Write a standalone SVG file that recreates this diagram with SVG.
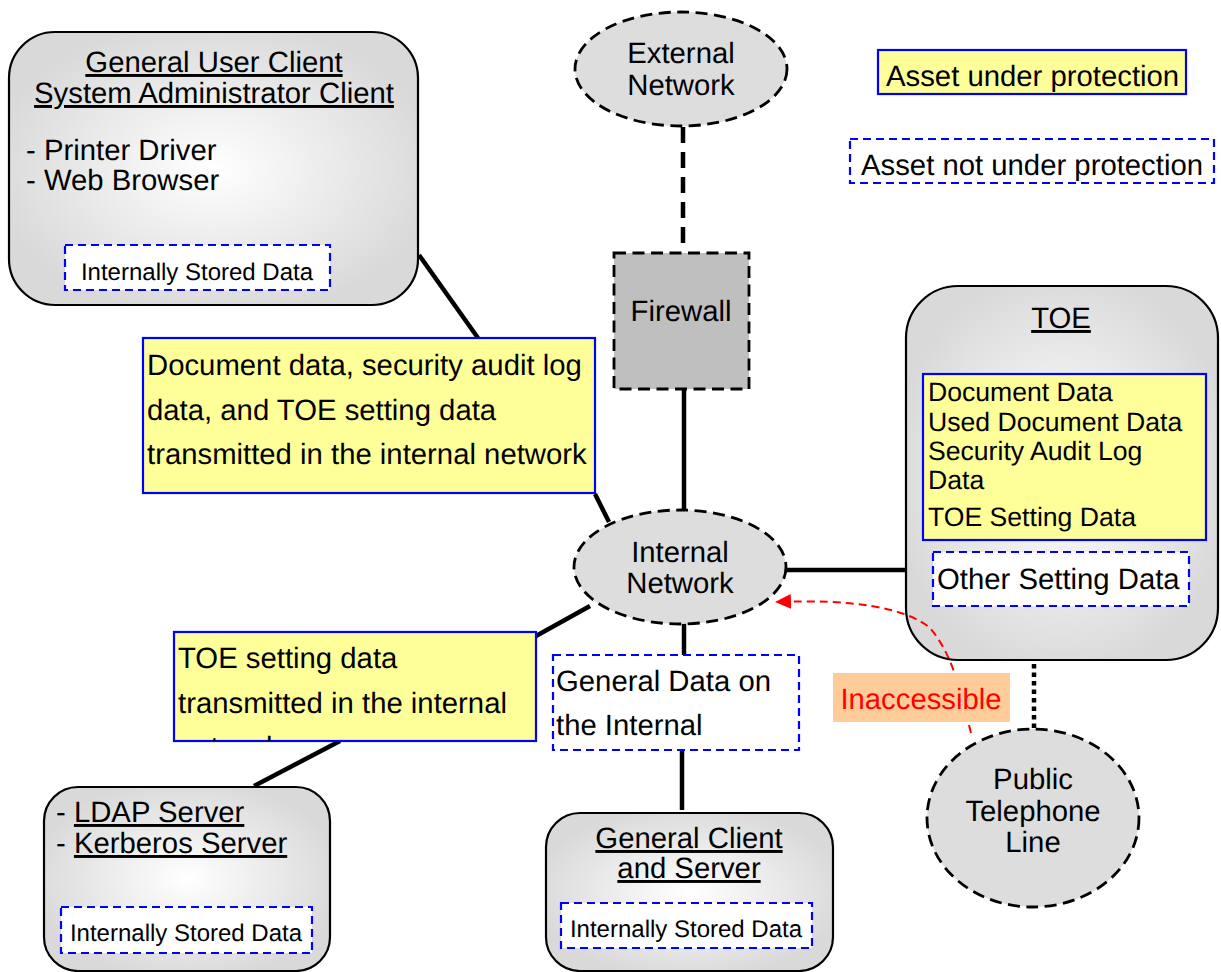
<svg xmlns="http://www.w3.org/2000/svg" width="1221" height="972" viewBox="0 0 1221 972">
<style>
text{font-family:"Liberation Sans",Arial,sans-serif;font-size:29.3px;fill:#000;text-rendering:geometricPrecision}
.s{font-size:24px}
.t{font-size:26.6px}
.m{text-anchor:middle}
.u{text-decoration:underline}
.node{fill:url(#rg);stroke:#000;stroke-width:2.2}
.cloud{fill:#dddddd;stroke:#000;stroke-width:2.8;stroke-dasharray:12 6.5}
.prot{fill:#ffff99;stroke:#0000ff;stroke-width:2.2}
.unprot{fill:#fff;stroke:#0000ff;stroke-width:2.2;stroke-dasharray:8 5}
.c{stroke:#000;stroke-width:4.5;fill:none}
</style>
<defs>
<radialGradient id="rg" cx="50%" cy="50%" r="55%"><stop offset="0" stop-color="#fff"/><stop offset="1" stop-color="#d9d9d9"/></radialGradient>
<marker id="ah" markerUnits="userSpaceOnUse" markerWidth="16" markerHeight="16" refX="15" refY="7.5" orient="auto"><path d="M0 0L16 7.5L0 15Z" fill="#f00"/></marker>
<clipPath id="clipTOE"><rect x="174" y="632" width="362" height="109"/></clipPath>
</defs>
<g id="connectors">
<path class="c" d="M683 127V252" stroke-dasharray="16 9"/>
<path class="c" d="M684 390V510"/>
<path class="c" d="M419 255L478 338"/>
<path class="c" d="M595 494L609 522"/>
<path class="c" d="M590 606L536 636"/>
<path class="c" d="M340 741L254 786"/>
<path class="c" d="M684 623V655"/>
<path class="c" d="M682 750V810"/>
<path class="c" d="M786 570H906"/>
<path class="c" d="M1034 664V728" stroke-dasharray="4.5 4"/>
</g>
<g id="n-client"><rect class="node" x="9" y="32" width="409" height="273" rx="46"/>
<text class="m u" x="214" y="72">General User Client</text>
<text class="m u" x="214" y="103">System Administrator Client</text>
<text x="26" y="160">- Printer Driver</text>
<text x="26" y="190">- Web Browser</text>
<rect class="unprot" x="65" y="245" width="265" height="45"/>
<text class="s m" x="197" y="280">Internally Stored Data</text></g>
<g id="n-external"><ellipse class="cloud" cx="681" cy="69" rx="106" ry="57"/>
<text class="m" x="681" y="63">External</text><text class="m" x="681" y="95">Network</text></g>
<g id="legend-prot"><rect class="prot" x="878" y="50" width="308" height="44"/><text x="886" y="86">Asset under protection</text></g>
<g id="legend-unprot"><rect class="unprot" x="850" y="139" width="364" height="44"/><text x="861" y="175">Asset not under protection</text></g>
<g id="n-firewall"><rect x="614" y="253" width="135" height="136" fill="#bfbfbf" stroke="#000" stroke-width="2.8" stroke-dasharray="12 6.5"/>
<text class="m" x="681" y="321">Firewall</text></g>
<g id="n-toe"><rect class="node" x="906" y="286" width="312" height="374" rx="52"/>
<text class="m u" x="1061" y="328">TOE</text>
<rect class="prot" x="923" y="374" width="283" height="166"/>
<text class="t" x="928" y="401">Document Data</text>
<text class="t" x="928" y="431">Used Document Data</text>
<text class="t" x="928" y="460">Security Audit Log</text>
<text class="t" x="928" y="489">Data</text>
<text class="t" x="928" y="526">TOE Setting Data</text>
<rect class="unprot" x="933" y="552" width="256" height="54"/>
<text x="937" y="589">Other Setting Data</text></g>
<g id="label-doc"><rect class="prot" x="143" y="338" width="452" height="155"/>
<text x="147" y="375">Document data, security audit log</text>
<text x="147" y="420">data, and TOE setting data</text>
<text x="147" y="464">transmitted in the internal network</text></g>
<g id="n-internal"><ellipse class="cloud" cx="680" cy="567" rx="106" ry="57"/>
<text class="m" x="680" y="562">Internal</text><text class="m" x="680" y="593">Network</text></g>
<g id="label-toe"><rect class="prot" x="174" y="632" width="362" height="109"/>
<g clip-path="url(#clipTOE)"><text x="178" y="668">TOE setting data</text>
<text x="178" y="713">transmitted in the internal</text>
<text x="178" y="757">network</text></g></g>
<g id="label-general"><rect class="unprot" x="553" y="655" width="246" height="95"/>
<text x="556" y="691">General Data on</text>
<text x="556" y="735">the Internal</text></g>
<g id="n-ldap"><rect class="node" x="44" y="787" width="286" height="184" rx="34"/>
<text x="56" y="822">- <tspan class="u">LDAP Server</tspan></text>
<text x="56" y="853">- <tspan class="u">Kerberos Server</tspan></text>
<rect class="unprot" x="61" y="907" width="251" height="46"/>
<text class="s m" x="186" y="941">Internally Stored Data</text></g>
<g id="n-general"><rect class="node" x="546" y="813" width="287" height="158" rx="34"/>
<text class="m u" x="689" y="848">General Client</text>
<text class="m u" x="689" y="878">and Server</text>
<rect class="unprot" x="561" y="903" width="251" height="45"/>
<text class="s m" x="686" y="937">Internally Stored Data</text></g>
<g id="n-phone"><ellipse class="cloud" cx="1033" cy="818" rx="106" ry="89"/>
<text class="m" x="1033" y="789">Public</text><text class="m" x="1033" y="821">Telephone</text><text class="m" x="1033" y="852">Line</text></g>
<g id="inaccessible">
<path d="M971 733C960 690 953 655 930 628C905 607 850 599 776 602" fill="none" stroke="#f00" stroke-width="2" stroke-dasharray="8 5" marker-end="url(#ah)"/>
<rect x="833" y="673" width="177" height="49" fill="#ffcc99"/>
<text class="m" x="921" y="709" style="fill:#f00">Inaccessible</text></g>
</svg>
